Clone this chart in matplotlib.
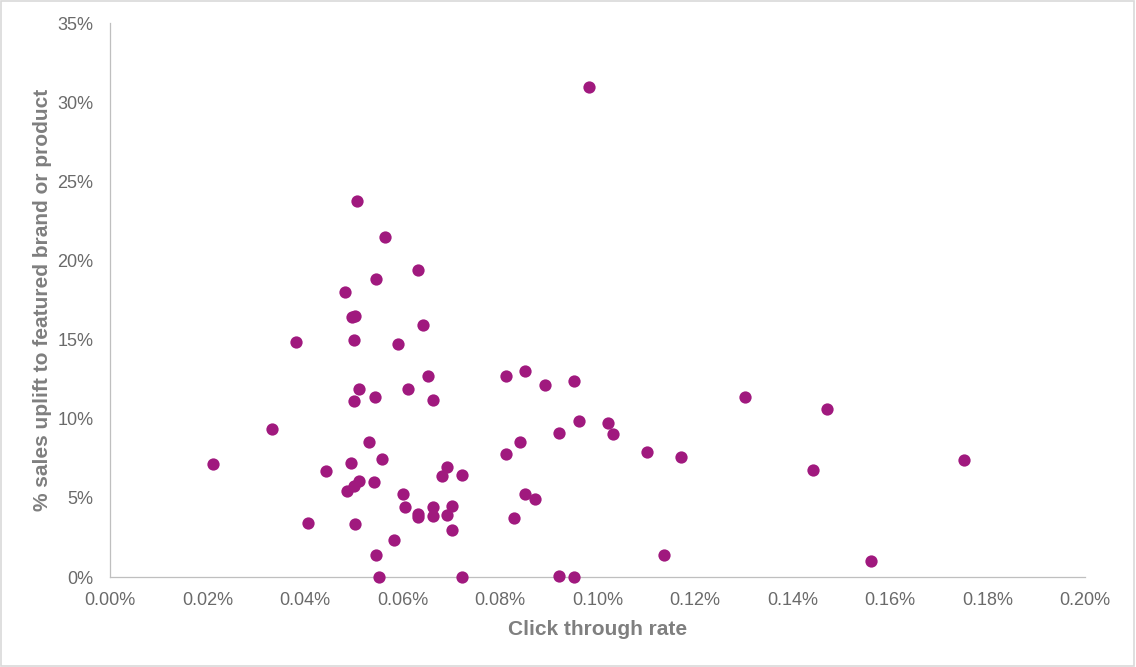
import matplotlib.pyplot as plt
from matplotlib.ticker import FuncFormatter
from matplotlib.patches import Rectangle

# click through rate (%) and sales uplift (%)
ctr = [0.0211, 0.0332, 0.0382, 0.0406, 0.0443, 0.0482, 0.0486, 0.0494, 0.0496, 0.0503,
       0.0501, 0.0501, 0.0507, 0.0501, 0.0511, 0.0503, 0.0511, 0.0531, 0.0542, 0.0546,
       0.0544, 0.0546, 0.0552, 0.0558, 0.0564, 0.0583, 0.0591, 0.0601, 0.0605, 0.0611,
       0.0632, 0.0632, 0.0632, 0.0642, 0.0652, 0.0663, 0.0663, 0.0663, 0.0681, 0.0691,
       0.0691, 0.0702, 0.0702, 0.0722, 0.0722, 0.0812, 0.0812, 0.0829, 0.0841, 0.0851,
       0.0851, 0.0872, 0.0892, 0.0921, 0.0921, 0.0952, 0.0952, 0.0962, 0.0983, 0.1022,
       0.1032, 0.1102, 0.1136, 0.1171, 0.1303, 0.1442, 0.1471, 0.1561, 0.1752]
uplift = [7.14, 9.35, 14.85, 3.43, 6.70, 18.0, 5.45, 7.20, 16.4, 16.5,
          11.1, 15.0, 23.75, 5.75, 6.06, 3.35, 11.9, 8.53, 6.03, 18.8,
          11.4, 1.39, 0.0, 7.45, 21.5, 2.34, 14.7, 5.24, 4.42, 11.9,
          19.4, 3.98, 3.77, 15.9, 12.7, 4.44, 3.85, 11.2, 6.38, 6.97,
          3.92, 4.48, 2.97, 6.44, 0.0, 7.77, 12.7, 3.73, 8.53, 13.0,
          5.24, 4.93, 12.1, 9.10, 0.06, 12.4, 0.0, 9.85, 30.95, 9.73,
          9.03, 7.90, 1.39, 7.58, 11.4, 6.76, 10.6, 1.01, 7.39]

xticks = [0.00, 0.02, 0.04, 0.06, 0.08, 0.10, 0.12, 0.14, 0.16, 0.18, 0.20]
yticks = [0, 5, 10, 15, 20, 25, 30, 35]

plt.rcParams["font.family"] = ["Liberation Sans", "DejaVu Sans"]
tick_grey = "#6A6A6A"
title_grey = "#7F7F7F"
fig = plt.figure(figsize=(11.36, 6.67), dpi=100)
ax = fig.add_axes([110 / 1136, 1 - 577 / 667, 975 / 1136, 554 / 667])

ax.scatter(ctr, uplift, s=78, color="#A0197E", linewidths=0, clip_on=False, zorder=3)

ax.set_xlim(0, 0.20)
ax.set_ylim(0, 35)
ax.set_xticks(xticks)
ax.set_yticks(yticks)
ax.xaxis.set_major_formatter(FuncFormatter(lambda v, p: "{:.2f}%".format(v)))
ax.yaxis.set_major_formatter(FuncFormatter(lambda v, p: "{:.0f}%".format(v)))
ax.tick_params(length=0, labelsize=13, labelcolor=tick_grey)
ax.tick_params(axis="x", pad=11)
ax.tick_params(axis="y", pad=12)

for side in ["top", "right"]:
    ax.spines[side].set_visible(False)
for side in ["left", "bottom"]:
    ax.spines[side].set_color("#BFBFBF")
    ax.spines[side].set_linewidth(0.9)

ax.set_xlabel("Click through rate", fontsize=15, color=title_grey, fontweight="bold", labelpad=8)
ax.set_ylabel("% sales uplift to featured brand or product", fontsize=15, color=title_grey,
              fontweight="bold", labelpad=4)

# chart-area border
fig.patches.append(Rectangle((0.001, 0.002), 0.997, 0.996, transform=fig.transFigure,
                             fill=False, edgecolor="#D9D9D9", linewidth=1.2))

fig.savefig("out.png", dpi=100)
